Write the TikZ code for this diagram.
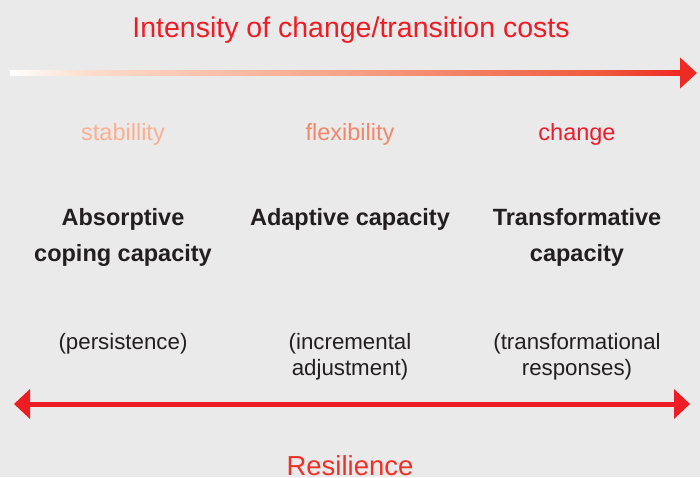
\documentclass[tikz,border=0pt]{standalone}
\usepackage{fontspec}
\setmainfont{Liberation Sans}
\usetikzlibrary{arrows.meta}
\definecolor{bg}{HTML}{EAEAEA}
\definecolor{myred}{HTML}{EE1C25}
\definecolor{resred}{HTML}{EE3128}
\definecolor{txt}{HTML}{231F20}
\definecolor{cstab}{HTML}{FBAF93}
\definecolor{cflex}{HTML}{F3876A}
\definecolor{cchange}{HTML}{EC1C2D}
\definecolor{ga}{HTML}{FDDCCB}
\definecolor{gb}{HTML}{F6A387}
\definecolor{gc}{HTML}{EF5A3E}
\definecolor{gd}{HTML}{EE2A24}
\pgfdeclarehorizontalshading{costgrad}{100bp}{color(0bp)=(white); color(25bp)=(white); color(31bp)=(ga); color(50bp)=(gb); color(69bp)=(gc); color(75bp)=(gd); color(100bp)=(gd)}
\tikzset{
  bigred/.style={font=\fontsize{28.5}{32}\selectfont, inner sep=0pt, anchor=base},
  level/.style={font=\fontsize{23.5}{26}\selectfont, inner sep=0pt, anchor=base},
  capbox/.style={font=\bfseries\fontsize{23.5}{36}\selectfont, text=txt, align=center, inner sep=0pt, anchor=base},
  descbox/.style={font=\fontsize{22.3}{26}\selectfont, text=txt, align=center, inner sep=0pt, anchor=base},
}
\begin{document}
\begin{tikzpicture}[x=1pt,y=-1pt]
\fill[bg] (0,0) rectangle (700,477);
\useasboundingbox (0,0) rectangle (700,477);
% title
\node[bigred, text=myred] (title) at (351,37) {Intensity of change/transition costs};
% gradient arrow
\coordinate (gs) at (10,73);
\coordinate (ge) at (679,73);
\coordinate (gt) at (697,73);
\shade[shading=costgrad] (10,70.5) rectangle (680,75.5);
\draw[gd, line width=5pt, -{Triangle[length=17pt,width=30pt]}] (ge) -- (gt);
% levels
\node[level, text=cstab] (stab) at (123,140) {stabillity};
\node[level, text=cflex] (flex) at (350,140) {flexibility};
\node[level, text=cchange] (chg) at (577,140) {change};
% capacities (base = last line)
\node[capbox] (abs) at (123,261) {Absorptive\\coping capacity};
\node[capbox] (ada) at (350,225) {Adaptive capacity};
\node[capbox] (tra) at (577,261) {Transformative\\capacity};
% descriptions (base = last line)
\node[descbox] (per) at (123,349) {(persistence)};
\node[descbox] (inc) at (350,375) {(incremental\\adjustment)};
\node[descbox] (trr) at (577,375) {(transformational\\responses)};
% resilience arrow
\coordinate (rl) at (14,404);
\coordinate (rr) at (690,404);
\draw[myred, line width=5pt, {Triangle[length=16pt,width=29pt]}-{Triangle[length=16pt,width=29pt]}] (rl) -- (rr);
\node[bigred, text=resred, font=\fontsize{27.5}{32}\selectfont] (res) at (350,475) {Resilience};
\end{tikzpicture}
\end{document}
